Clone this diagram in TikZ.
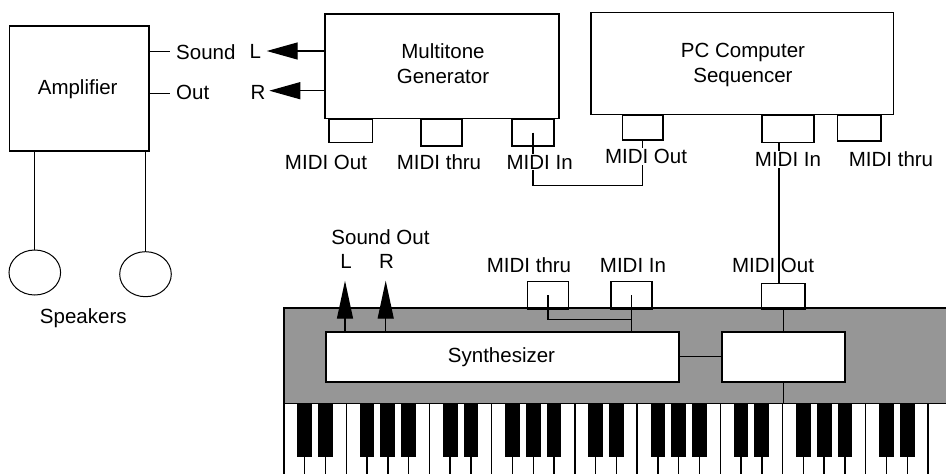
\documentclass[tikz,border=0pt]{standalone}
\usepackage{fontspec}
\setmainfont{Liberation Sans}
\usetikzlibrary{arrows.meta,shapes.geometric}
\definecolor{panelgray}{RGB}{150,150,150}
\begin{document}
\begin{tikzpicture}[x=1pt,y=-1pt,
  every node/.style={font=\fontsize{20.5}{25}\selectfont},
  box/.style={draw,line width=1.6pt,inner sep=0pt,align=center},
  port/.style={draw,line width=1.6pt,inner sep=0pt,anchor=north west},
  lbl/.style={inner sep=1pt},
  wlbl/.style={inner sep=1pt,fill=white},
  wire/.style={line width=1.3pt},
  leftarrow/.style={wire,-{Triangle[length=31pt,width=17pt]}},
  uparrow/.style={wire,-{Triangle[length=38pt,width=16pt]}},
  speaker/.style={draw,ellipse,line width=1pt,minimum width=51.6pt,minimum height=45pt,inner sep=0pt}]
\useasboundingbox (0,0) rectangle (946,474);

% ---------- amplifier and speakers ----------
\node[box,minimum width=139.7pt,minimum height=125.3pt] (amp) at (79.15,88.35) {};
\node[lbl] at (77.7,89) {Amplifier};
\node[speaker] (spk1) at (34.8,272.5) {};
\node[speaker] (spk2) at (145.5,274.2) {};
\draw[wire] (spk1.north) -- (spk1.north |- amp.south);
\draw[wire] (spk2.north) -- (spk2.north |- amp.south);
\node[lbl] at (83.3,318) {Speakers};

\coordinate (ampL) at (170,51.7);
\coordinate (ampR) at (170,93.3);
\draw[wire] (amp.east |- ampL) -- (ampL);
\draw[wire] (amp.east |- ampR) -- (ampR);
\node[lbl,anchor=west] at (175,51.7) {Sound};
\node[lbl,anchor=west] at (175,92.5) {Out};

% ---------- multitone generator ----------
\node[box,minimum width=234pt,minimum height=104.3pt] (mg) at (442,66.15) {};
\node[lbl,align=center] at (443,64) {Multitone\\Generator};
\node[port,minimum width=43.4pt,minimum height=23.4pt] (mgout) at (328.3,118.3) {};
\node[port,minimum width=41pt,minimum height=27pt] (mgthru) at (420,118.3) {};
\node[port,minimum width=42.3pt,minimum height=27pt] (mgin) at (511,118.3) {};

\coordinate (tipL) at (266.7,51);
\coordinate (tipR) at (269.3,90.7);
\draw[leftarrow] (mg.west |- tipL) -- (tipL);
\draw[leftarrow] (mg.west |- tipR) -- (tipR);
\node[lbl,anchor=west] at (248.5,51.7) {L};
\node[lbl,anchor=west] at (249.5,92.5) {R};

% ---------- PC sequencer ----------
\node[box,minimum width=302.6pt,minimum height=102pt] (pc) at (742,63.3) {};
\node[lbl,align=center] at (743,65) {PC Computer\\Sequencer};
\node[port,minimum width=40.6pt,minimum height=25pt] (pcout) at (621.7,114.3) {};
\node[port,minimum width=52.3pt,minimum height=27.4pt] (pcin) at (761,114.3) {};
\node[port,minimum width=43.3pt,minimum height=25.7pt] (pcthru) at (836.7,114.3) {};

% MIDI cable: generator in <- sequencer out
\coordinate (mgdrop) at (532.7,185.7);
\draw[wire] (mgin.center) -- (mgin.center |- mgdrop) -| (pcout.south);

% ---------- keyboard panel ----------
\node[fill=panelgray,inner sep=0pt,minimum width=662pt,minimum height=95pt,anchor=north west] (panel) at (284,308) {};
\draw[line width=1.6pt] (panel.north east) -- (panel.north west) -- (panel.south west) -- (panel.south east);

% keys: white key dividers and black keys
\foreach \k in {0,3,7,10,14,17,21,24,28,31}
  \draw[line width=1.4pt] (284+\k*20.774,403) -- (284+\k*20.774,474);
\foreach \k in {1,2,4,5,6,8,9,11,12,13,15,16,18,19,20,22,23,25,26,27,29,30}{
  \draw[line width=1.4pt] (284+\k*20.774,457) -- (284+\k*20.774,474);
  \fill (284+\k*20.774-7.4,403) rectangle (284+\k*20.774+7.4,457.3);
}

\node[box,fill=white,minimum width=353pt,minimum height=50pt,anchor=north west] (synth) at (325,331) {};
\node[lbl] at (501.5,357) {Synthesizer};
\node[box,fill=white,minimum width=123pt,minimum height=50pt,anchor=north west] (ctrl) at (721,331) {};
\draw[wire] (synth.east) -- (ctrl.west);

\node[port,minimum width=41pt,minimum height=27.3pt] (synthru) at (526.7,280.7) {};
\node[port,minimum width=41pt,minimum height=27.3pt] (synin) at (610,280.7) {};
\node[port,minimum width=43.3pt,minimum height=25.3pt] (synout) at (760.7,282.7) {};

\coordinate (thrujoin) at (0,319.3);
\draw[wire] (synthru.center) |- (synin.center |- thrujoin);
\draw[wire] (synin.center) -- (synin.center |- synth.north);
\draw[wire] (synout.south) -- (synout.south |- ctrl.north);
\draw[wire] (ctrl.south) -- (ctrl.south |- panel.south);

% sound outputs of the synthesizer
\coordinate (soundL) at (345,280.7);
\coordinate (soundR) at (385.7,280.7);
\draw[uparrow] (synth.north -| soundL) -- (soundL);
\draw[uparrow] (synth.north -| soundR) -- (soundR);
\node[lbl] at (346,261) {L};
\node[lbl] at (386.5,261) {R};
\node[lbl] at (380.5,237.5) {Sound Out};

% MIDI cable: sequencer in <- synthesizer out
\coordinate (midiline) at (779,0);
\draw[wire] (pcin.south -| midiline) -- (synout.north -| midiline);

% ---------- port labels ----------
\node[wlbl] at (326,162) {MIDI Out};
\node[wlbl] at (439,162) {MIDI thru};
\node[wlbl] at (539.7,162) {MIDI In};
\node[wlbl] at (646,156.5) {MIDI Out};
\node[wlbl] at (788,159.5) {MIDI In};
\node[wlbl] at (891,159.5) {MIDI thru};
\node[lbl] at (529,265) {MIDI thru};
\node[lbl] at (633,265) {MIDI In};
\node[lbl] at (773,265) {MIDI Out};
\end{tikzpicture}
\end{document}
